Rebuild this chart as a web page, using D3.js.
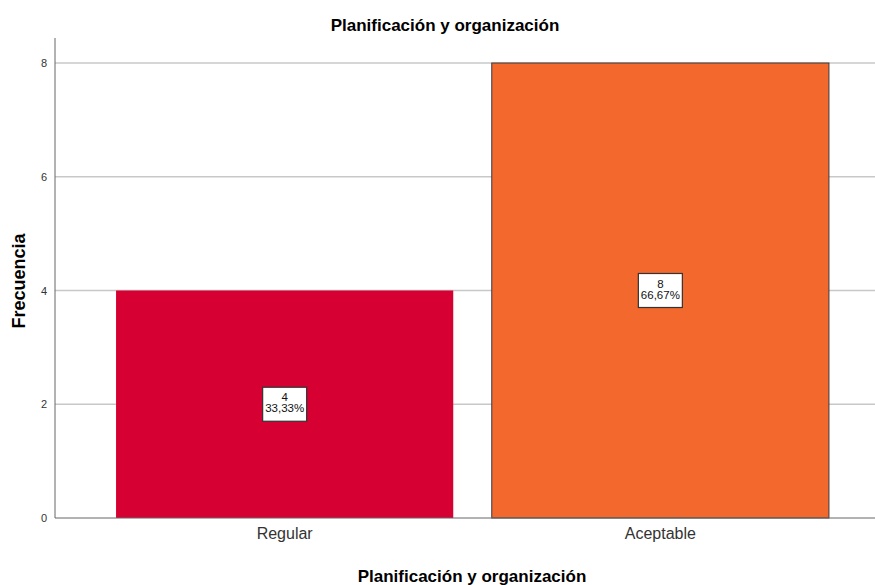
<!DOCTYPE html>
<html><head><meta charset="utf-8">
<script src="https://cdn.jsdelivr.net/npm/d3@7"></script>
<style>body{margin:0;background:#fff}svg{display:block}</style>
</head><body>
<svg id="c" width="875" height="585"></svg>
<script>
const categories = ["Regular", "Aceptable"];
const counts = [4, 8];
const percents = ["33,33%", "66,67%"];
const colors = ["#d60032", "#f2682d"];
const yTicks = [0, 2, 4, 6, 8];
const title = "Planificación y organización";
const xTitle = "Planificación y organización";
const yTitle = "Frecuencia";

const svg = d3.select("#c");
const font = "'Liberation Sans', Arial, sans-serif";
const x = d3.scaleBand().domain(categories).range([55, 890]).paddingInner(0.1025).paddingOuter(0.1625);
const y = d3.scaleLinear().domain([0, 8]).range([518, 63]);

// gridlines
svg.append("g").selectAll("line").data(yTicks.filter(d => d > 0)).join("line")
  .attr("x1", 55).attr("x2", 875).attr("y1", d => y(d)).attr("y2", d => y(d))
  .attr("stroke", "#c8c8c8").attr("stroke-width", 1.5);

// bars
svg.append("g").selectAll("rect").data(categories).join("rect")
  .attr("x", d => x(d)).attr("width", x.bandwidth())
  .attr("y", (d, i) => y(counts[i])).attr("height", (d, i) => y(0) - y(counts[i]))
  .attr("fill", (d, i) => colors[i])
  .attr("stroke", (d, i) => i === 1 ? "#3a3a3a" : "none").attr("stroke-width", 1);

// y axis
const yAxis = svg.append("g").attr("transform", "translate(55,0)")
  .call(d3.axisLeft(y).tickValues(yTicks).tickSize(0).tickPadding(8));
yAxis.select(".domain").attr("d", "M0,38V518").attr("stroke", "#666");
yAxis.selectAll("text").attr("font-family", font).attr("font-size", 11).attr("fill", "#333");

// x axis
const xAxis = svg.append("g").attr("transform", "translate(0,518)")
  .call(d3.axisBottom(x).tickSize(0).tickPadding(10));
xAxis.select(".domain").attr("d", "M55,0H875").attr("stroke", "#666");
xAxis.selectAll("text").attr("font-family", font).attr("font-size", 16).attr("fill", "#333");

// value labels
const lab = svg.append("g").selectAll("g").data(categories).join("g")
  .attr("transform", (d, i) => `translate(${x(d) + x.bandwidth() / 2},${y(counts[i] / 2)})`);
lab.append("rect").attr("x", -22).attr("y", -17).attr("width", 44).attr("height", 34)
  .attr("fill", "#fff").attr("stroke", "#333").attr("stroke-width", 1.2);
lab.append("text").attr("y", -3).attr("text-anchor", "middle").attr("font-family", font)
  .attr("font-size", 11.5).attr("fill", "#111").text((d, i) => counts[i]);
lab.append("text").attr("y", 8).attr("text-anchor", "middle").attr("font-family", font)
  .attr("font-size", 11.5).attr("fill", "#111").text((d, i) => percents[i]);

// titles
svg.append("text").attr("x", 445).attr("y", 31).attr("text-anchor", "middle")
  .attr("font-family", font).attr("font-weight", "bold").attr("font-size", 17).attr("fill", "#000").text(title);
svg.append("text").attr("x", 472).attr("y", 582).attr("text-anchor", "middle")
  .attr("font-family", font).attr("font-weight", "bold").attr("font-size", 17).attr("fill", "#000").text(xTitle);
svg.append("text").attr("transform", "translate(25,281) rotate(-90)").attr("text-anchor", "middle")
  .attr("font-family", font).attr("font-weight", "bold").attr("font-size", 18).attr("fill", "#000").text(yTitle);
</script>
</body></html>
